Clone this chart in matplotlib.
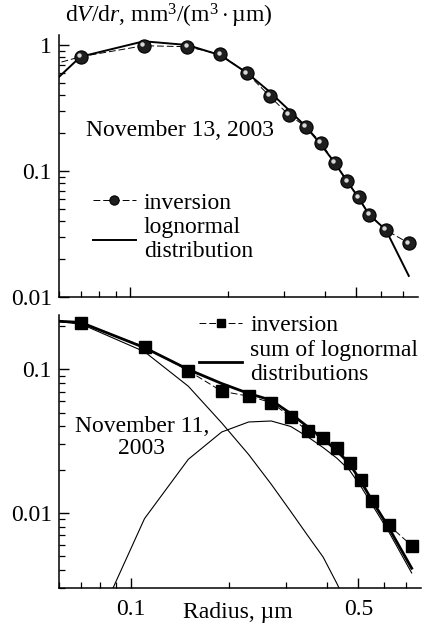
import matplotlib
matplotlib.use("Agg")
import matplotlib.pyplot as plt
from matplotlib.ticker import FixedLocator, NullFormatter, FixedFormatter
from matplotlib.transforms import offset_copy

plt.rcParams["font.family"] = ["Liberation Serif", "DejaVu Serif"]
plt.rcParams["mathtext.fontset"] = "custom"
plt.rcParams["mathtext.rm"] = "Liberation Serif"
plt.rcParams["mathtext.it"] = "Liberation Serif:italic"

# radius grid, um (first point lies left of the axis and only feeds the lines)
radius = [0.05, 0.07, 0.11, 0.15, 0.19, 0.23, 0.27, 0.31, 0.35, 0.39,
          0.43, 0.47, 0.51, 0.55, 0.62, 0.73]

# November 13, 2003
inv_13 = [0.634, 0.807, 0.987, 0.969, 0.844, 0.596, 0.394, 0.278, 0.225, 0.168,
          0.116, 0.083, 0.062, 0.045, 0.034, 0.0267]
logn_13 = [0.36, 0.807, 1.07, 1.0, 0.83, 0.60, 0.426, 0.305, 0.225, 0.162,
           0.116, 0.083, 0.061, 0.045, 0.034, 0.0147]

# November 11, 2003
inv_11 = [0.22, 0.210, 0.144, 0.098, 0.0705, 0.0651, 0.0588, 0.0466, 0.037, 0.0332,
          0.0283, 0.0222, 0.0168, 0.012, 0.0082, 0.0059]
sum_11 = [0.222, 0.213, 0.142, 0.100, 0.0798, 0.068, 0.061, 0.0492, 0.0397, 0.0329,
          0.027, 0.0220, 0.0165, 0.0123, 0.0079, 0.0041]
mode1_11 = [0.225, 0.208, 0.133, 0.0764, 0.0424, 0.0255, 0.0158, 0.0102, 0.0069, 0.0049,
            0.0032, 0.0021, 0.0014, 0.0009, 0.0005, 0.0002]
mode2_11 = [0.0001, 0.00095, 0.0091, 0.0236, 0.0366, 0.043, 0.0437, 0.0400, 0.0338, 0.0285,
            0.0240, 0.0198, 0.0152, 0.0115, 0.0074, 0.0038]

x_major = [0.1, 0.5]
x_major_labels = ["0.1", "0.5"]
x_minor = [0.06, 0.07, 0.08, 0.09, 0.2, 0.3, 0.4, 0.6, 0.7]

FS = 17


def style_axes(ax, ylim, yticks, ylabels):
    ax.set_xscale("log")
    ax.set_yscale("log")
    ax.set_xlim(0.06, 0.78)
    ax.set_ylim(*ylim)
    for s in ("top", "right"):
        ax.spines[s].set_visible(False)
    for s in ("left", "bottom"):
        ax.spines[s].set_linewidth(1.1)
    ax.xaxis.set_major_locator(FixedLocator(x_major))
    ax.xaxis.set_major_formatter(FixedFormatter(x_major_labels))
    ax.xaxis.set_minor_locator(FixedLocator(x_minor))
    ax.xaxis.set_minor_formatter(NullFormatter())
    ax.yaxis.set_major_locator(FixedLocator(yticks))
    ax.yaxis.set_major_formatter(FixedFormatter(ylabels))
    ax.tick_params(which="major", direction="in", length=7, width=1.0, labelsize=FS, pad=5)
    ax.tick_params(which="minor", direction="in", length=4, width=0.9)
    ax.tick_params(axis="y", which="both", right=False)
    ax.tick_params(axis="x", which="both", top=False)


fig = plt.figure(figsize=(4.24, 6.23), dpi=100)
ax1 = fig.add_axes([0.139, 0.5233, 0.847, 0.4205])
ax2 = fig.add_axes([0.139, 0.0567, 0.854, 0.4377])

# top panel
ax1.plot(radius, inv_13, color="black", lw=0.7, ls=(0, (7, 3)), marker="o", ms=9.5,
         mfc="#1e1e1e", mec="black", mew=0.8, label="inversion", zorder=3)
# little highlight on the spheres
shine = offset_copy(ax1.transData, fig=fig, x=-1.6, y=1.6, units="dots")
ax1.plot(radius, inv_13, ls="none", marker="o", ms=3.2, mfc="#d8d8d8", mec="none",
         transform=shine, zorder=4)
ax1.plot(radius, logn_13, color="black", lw=1.4, label="lognormal\ndistribution", zorder=2)
style_axes(ax1, (0.01, 1.2), [0.01, 0.1, 1], ["0.01", "0.1", "1"])
ax1.tick_params(axis="x", labelbottom=False)
ax1.text(0.075, 0.635, "November 13, 2003", transform=ax1.transAxes, fontsize=FS,
         ha="left", va="center")
ax1.legend(loc="upper left", bbox_to_anchor=(0.062, 0.445), frameon=False, fontsize=FS,
           handlelength=1.8, handletextpad=0.35, borderpad=0, labelspacing=0.15,
           markerscale=0.7)

# bottom panel
ax2.plot(radius, inv_11, color="black", lw=0.7, ls=(0, (7, 3)), marker="s", ms=8.5,
         mfc="black", mec="black", label="inversion", zorder=3)
ax2.plot(radius, sum_11, color="black", lw=2.0, label="sum of lognormal\ndistributions", zorder=2)
ax2.plot(radius, mode1_11, color="black", lw=0.8, zorder=1)
ax2.plot(radius, mode2_11, color="black", lw=0.8, zorder=1)
style_axes(ax2, (0.003, 0.24), [0.01, 0.1], ["0.01", "0.1"])
ax2.text(0.229, 0.55, "November 11,\n2003", transform=ax2.transAxes, fontsize=FS,
         ha="center", va="center", linespacing=1.1)
ax2.legend(loc="upper left", bbox_to_anchor=(0.355, 1.045), frameon=False, fontsize=FS,
           handlelength=1.8, handletextpad=0.35, borderpad=0, labelspacing=0.15,
           markerscale=0.7)
ax2.tick_params(axis="x", pad=8)

fig.text(0.153, 0.975, r"d$V$/d$r$, mm$^3$/(m$^3\cdot$µm)", fontsize=FS, ha="left", va="center")
fig.text(0.56, 0.017, "Radius, µm", fontsize=FS, ha="center", va="center")

fig.savefig("out.png", dpi=100)
